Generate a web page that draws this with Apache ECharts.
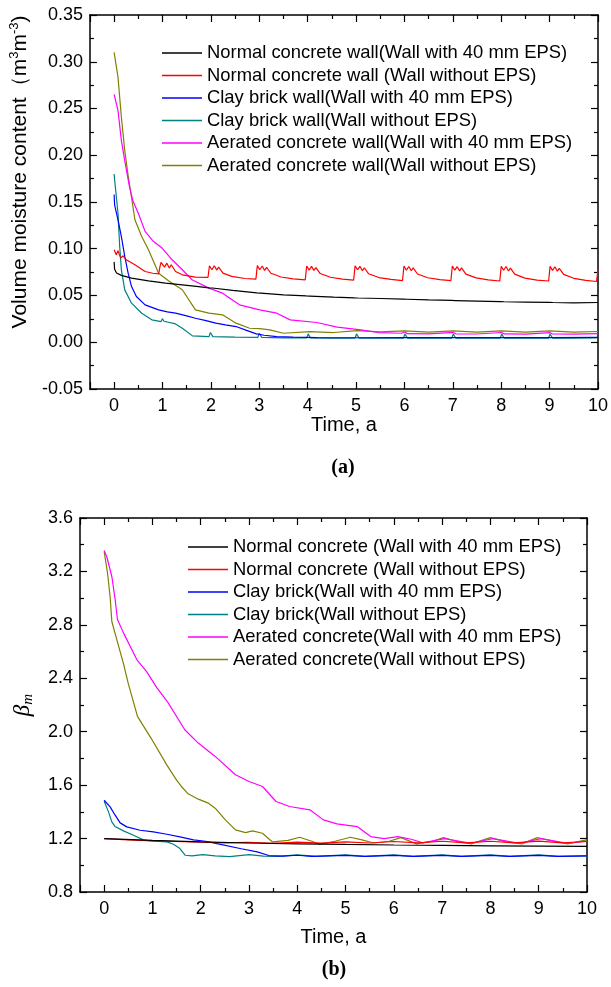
<!DOCTYPE html>
<html>
<head>
<meta charset="utf-8">
<script src="https://cdn.jsdelivr.net/npm/echarts@6/dist/echarts.min.js"></script>
<style>html,body{margin:0;padding:0;background:#fff;}#c{width:611px;height:987px;}</style>
</head>
<body>
<div id="c"></div>
<script>
// ---------- (a) Volume moisture content ----------
const topNames = [
  'Normal concrete wall(Wall with 40 mm EPS)',
  'Normal concrete wall (Wall without EPS)',
  'Clay brick wall(Wall with 40 mm EPS)',
  'Clay brick wall(Wall without EPS)',
  'Aerated concrete wall(Wall with 40 mm EPS)',
  'Aerated concrete wall(Wall without EPS)'
];
const topNormalEPS = [[0,0.086],[0.01,0.078],[0.05,0.074],[0.15,0.0715],[0.36,0.0686],[0.71,0.0657],[1.06,0.0632],[1.41,0.0614],[1.7,0.0598],[1.96,0.0582],[1.99,0.0594],[2.03,0.058],[2.45,0.0554],[2.95,0.0528],[2.99,0.054],[3.03,0.0525],[3.5,0.0507],[3.97,0.0495],[4.0,0.0508],[4.04,0.0494],[4.54,0.0482],[4.97,0.0474],[5.0,0.0488],[5.04,0.0473],[5.5,0.0468],[5.98,0.0461],[6.01,0.0475],[6.05,0.046],[6.5,0.0453],[6.98,0.0447],[7.01,0.0461],[7.05,0.0446],[7.5,0.044],[7.99,0.0434],[8.02,0.0448],[8.06,0.0433],[8.5,0.043],[9.0,0.0426],[9.03,0.044],[9.07,0.0425],[9.5,0.0422],[10,0.0425]];
const topNormal = [[0,0.099],[0.01,0.097],[0.045,0.0936],[0.08,0.098],[0.136,0.090],[0.185,0.0925],[0.25,0.0882],[0.43,0.0829],[0.64,0.0757],[0.8,0.0738],[0.92,0.0732],
  [0.95,0.0815],[0.97,0.0854],[1.04,0.0804],[1.09,0.0846],[1.14,0.0793],[1.18,0.0829],[1.27,0.0757],[1.41,0.0721],[1.68,0.0696],[1.94,0.0693],
  [1.97,0.0818],[2.02,0.0775],[2.07,0.0818],[2.12,0.0772],[2.16,0.0804],[2.25,0.0739],[2.43,0.0704],[2.7,0.0682],[2.93,0.0675],
  [2.96,0.082],[3.01,0.0775],[3.06,0.0815],[3.11,0.0768],[3.15,0.080],[3.24,0.0738],[3.45,0.0698],[3.7,0.0678],[3.95,0.0668],
  [3.98,0.0815],[4.03,0.0772],[4.08,0.0812],[4.13,0.0768],[4.17,0.0798],[4.26,0.0735],[4.47,0.0695],[4.72,0.0675],[4.95,0.0665],
  [4.98,0.0818],[5.03,0.0775],[5.08,0.0812],[5.13,0.0765],[5.17,0.0797],[5.26,0.0732],[5.47,0.0692],[5.72,0.0672],[5.96,0.066],
  [5.99,0.0815],[6.04,0.077],[6.09,0.081],[6.14,0.0765],[6.18,0.0795],[6.27,0.073],[6.48,0.069],[6.73,0.067],[6.96,0.066],
  [6.99,0.0815],[7.04,0.0772],[7.09,0.0808],[7.14,0.0763],[7.18,0.0795],[7.27,0.0728],[7.48,0.0688],[7.73,0.0668],[7.97,0.0655],
  [8.0,0.0812],[8.05,0.077],[8.1,0.081],[8.15,0.0762],[8.19,0.0793],[8.28,0.0728],[8.49,0.0686],[8.74,0.0665],[8.98,0.0655],
  [9.01,0.0812],[9.06,0.0768],[9.11,0.0808],[9.16,0.076],[9.2,0.079],[9.29,0.0726],[9.5,0.0684],[9.75,0.0662],[9.97,0.065],[10,0.078]];
const topClayEPS = [[0,0.158],[0.01,0.147],[0.08,0.131],[0.15,0.113],[0.22,0.0918],[0.29,0.0739],[0.36,0.0596],[0.46,0.0489],[0.64,0.040],[0.92,0.0346],[1.1,0.0325],[1.27,0.0311],[1.5,0.0282],[1.68,0.0257],[1.9,0.0232],[2.1,0.0204],[2.3,0.0185],[2.52,0.0168],[2.75,0.0125],[2.94,0.0089],[3.1,0.0075],[3.36,0.0061],[3.7,0.0055],[4.19,0.005],[5,0.0048],[6,0.0049],[7,0.005],[8,0.0049],[9,0.005],[10,0.0052]];
const topClay = [[0,0.18],[0.01,0.174],[0.08,0.138],[0.115,0.1025],[0.15,0.0775],[0.22,0.056],[0.36,0.0418],[0.57,0.031],[0.78,0.024],[0.97,0.0221],[1.0,0.0252],[1.03,0.0225],[1.06,0.021],[1.27,0.0196],[1.41,0.015],[1.62,0.0068],[1.96,0.006],[1.99,0.0104],[2.04,0.006],[2.5,0.0055],[2.97,0.0052],[3.0,0.0096],[3.05,0.0052],[3.5,0.0046],[3.98,0.0046],[4.01,0.009],[4.06,0.0046],[4.5,0.0045],[4.98,0.0045],[5.01,0.009],[5.06,0.0045],[5.5,0.0044],[5.98,0.0045],[6.01,0.009],[6.06,0.0045],[6.5,0.0044],[6.98,0.0045],[7.01,0.0088],[7.06,0.0045],[7.5,0.0044],[7.98,0.0045],[8.01,0.0088],[8.06,0.0045],[8.5,0.0044],[8.98,0.0045],[9.01,0.0088],[9.06,0.0045],[9.5,0.0044],[10,0.0046]];
const topAeratedEPS = [[0,0.265],[0.08,0.248],[0.15,0.2157],[0.22,0.194],[0.32,0.1656],[0.39,0.151],[0.5,0.138],[0.64,0.1186],[0.81,0.108],[0.99,0.1007],[1.2,0.0882],[1.41,0.0775],[1.61,0.0668],[1.96,0.0579],[2.24,0.0525],[2.59,0.040],[3.01,0.0346],[3.36,0.0311],[3.64,0.0239],[4.19,0.0211],[4.61,0.0161],[5.1,0.0132],[5.45,0.0104],[5.94,0.0096],[6.01,0.011],[6.06,0.0092],[6.5,0.009],[7.01,0.0105],[7.06,0.009],[7.5,0.0088],[8.01,0.0104],[8.06,0.0089],[8.5,0.0087],[9.01,0.0102],[9.06,0.0088],[9.5,0.0087],[10,0.0092]];
const topAerated = [[0,0.31],[0.08,0.2835],[0.15,0.2406],[0.22,0.205],[0.29,0.178],[0.36,0.155],[0.43,0.131],[0.57,0.113],[0.71,0.099],[0.92,0.0739],[1.13,0.0655],[1.41,0.0561],[1.68,0.0346],[1.96,0.0311],[2.24,0.0293],[2.52,0.0204],[2.8,0.015],[3.01,0.0145],[3.22,0.0132],[3.5,0.0096],[4.05,0.0114],[4.54,0.0104],[5.03,0.0125],[5.5,0.011],[6.0,0.0122],[6.5,0.0108],[7.0,0.0122],[7.5,0.0108],[8.0,0.0122],[8.5,0.0108],[9.0,0.0122],[9.5,0.0108],[10,0.0115]];

// ---------- (b) beta_m ----------
const botNames = [
  'Normal concrete (Wall with 40 mm EPS)',
  'Normal concrete (Wall without EPS)',
  'Clay brick(Wall with 40 mm EPS)',
  'Clay brick(Wall without EPS)',
  'Aerated concrete(Wall with 40 mm EPS)',
  'Aerated concrete(Wall without EPS)'
];
const botNormalEPS = [[0,1.2],[1,1.186],[2,1.175],[3,1.167],[4,1.161],[5,1.156],[6,1.152],[7,1.149],[8,1.146],[9,1.144],[10,1.142]];
const botNormal = [[0,1.2],[0.5,1.19],[1,1.183],[1.5,1.178],[2,1.173],[2.5,1.168],[3,1.172],[3.5,1.165],[4,1.174],[4.5,1.166],[5,1.176],[5.5,1.167],[6,1.178],[6.5,1.168],[7,1.18],[7.5,1.168],[8,1.18],[8.5,1.168],[9,1.181],[9.5,1.168],[10,1.178]];
const botClayEPS = [[0,1.487],[0.124,1.4375],[0.228,1.375],[0.331,1.3175],[0.469,1.2875],[0.745,1.2625],[1.02,1.25],[1.3,1.2325],[1.57,1.2125],[1.85,1.19],[2.1,1.18],[2.36,1.16],[2.84,1.124],[3.17,1.1],[3.41,1.073],[3.7,1.068],[4.0,1.075],[4.3,1.066],[5.0,1.074],[5.4,1.066],[6.0,1.074],[6.4,1.066],[7.0,1.074],[7.4,1.066],[8.0,1.074],[8.4,1.066],[9.0,1.074],[9.4,1.066],[10,1.07]];
const botClay = [[0,1.48],[0.09,1.4],[0.159,1.325],[0.228,1.29],[0.4,1.2575],[0.607,1.225],[0.814,1.19],[1.02,1.18],[1.3,1.175],[1.435,1.1575],[1.57,1.125],[1.68,1.075],[1.82,1.07],[2.04,1.08],[2.3,1.07],[2.6,1.065],[3.0,1.08],[3.3,1.068],[3.6,1.066],[4.0,1.078],[4.4,1.066],[5.0,1.078],[5.4,1.066],[6.0,1.078],[6.4,1.066],[7.0,1.078],[7.4,1.066],[8.0,1.078],[8.4,1.066],[9.0,1.078],[9.4,1.066],[10,1.07]];
const botAeratedEPS = [[0,3.3575],[0.055,3.31],[0.16,3.16],[0.228,2.99],[0.276,2.84],[0.4,2.74],[0.676,2.54],[0.88,2.45],[1.09,2.33],[1.32,2.22],[1.67,2.015],[1.95,1.915],[2.3,1.815],[2.72,1.6775],[3.0,1.6275],[3.28,1.59],[3.56,1.4775],[3.84,1.44],[4.26,1.415],[4.54,1.34],[4.82,1.31],[5.24,1.29],[5.52,1.215],[5.8,1.2],[6.08,1.215],[6.36,1.195],[6.6,1.168],[7.05,1.2],[7.6,1.165],[8.05,1.2],[8.6,1.165],[9.05,1.2],[9.6,1.165],[10,1.18]];
const botAerated = [[0,3.35],[0.069,3.19],[0.124,3.01],[0.159,2.825],[0.262,2.69],[0.4,2.51],[0.5,2.36],[0.69,2.115],[0.97,1.9525],[1.3,1.75],[1.5,1.6375],[1.6,1.59],[1.74,1.535],[1.95,1.495],[2.16,1.465],[2.3,1.4275],[2.51,1.34],[2.72,1.265],[2.93,1.245],[3.07,1.2575],[3.28,1.24],[3.42,1.195],[3.49,1.175],[3.81,1.187],[4.05,1.21],[4.3,1.18],[4.46,1.157],[4.78,1.18],[5.1,1.21],[5.34,1.19],[5.58,1.167],[5.9,1.18],[6.15,1.207],[6.47,1.16],[6.8,1.18],[7.03,1.207],[7.28,1.18],[7.6,1.16],[8.0,1.207],[8.3,1.177],[8.65,1.16],[8.97,1.207],[9.3,1.18],[9.6,1.16],[9.94,1.187],[10,1.19]];

const colors = ['#000000','#ff0000','#0000ff','#008080','#ff00ff','#808000'];
const FONT = 'Liberation Sans, Arial, Helvetica, sans-serif';

const chart = echarts.init(document.getElementById('c'), null, {renderer:'canvas'});

function xAx(grid, pos, withLabel, nameGap) {
  return {
    type:'value', gridIndex:grid, position:pos, min:-0.5, max:10, minInterval:1, maxInterval:1,
    axisLine:{show:true, onZero:false, lineStyle:{color:'#000', width:1.5}},
    axisTick:{show:true, inside:true, length:7, lineStyle:{color:'#000', width:1.2}},
    minorTick:{show:true, splitNumber:2, length:4, lineStyle:{color:'#000', width:1.2}},
    splitLine:{show:false},
    axisLabel:{show:withLabel, color:'#000', fontSize:18, fontFamily:FONT, margin:8,
      formatter:function(v){return v < 0 ? '' : String(v);}},
    name: withLabel ? 'Time, a' : '', nameLocation:'middle', nameGap:nameGap,
    nameTextStyle:{color:'#000', fontSize:20, fontFamily:FONT}
  };
}
function yAx(grid, pos, withLabel, mn, mx, iv, dec, name, nameGap, rich) {
  return {
    type:'value', gridIndex:grid, position:pos, min:mn, max:mx, interval:iv,
    axisLine:{show:true, onZero:false, lineStyle:{color:'#000', width:1.5}},
    axisTick:{show:true, inside:true, length:7, lineStyle:{color:'#000', width:1.2}},
    minorTick:{show:true, splitNumber:2, length:4, lineStyle:{color:'#000', width:1.2}},
    splitLine:{show:false},
    axisLabel:{show:withLabel, color:'#000', fontSize:18, fontFamily:FONT, margin:7,
      formatter:function(v){return v.toFixed(dec);}},
    name: withLabel ? name : '', nameLocation:'middle', nameGap:nameGap,
    nameTextStyle:{color:'#000', fontSize:21, fontFamily:FONT, rich:rich}
  };
}

const topRich = {
  p:{fontSize:21, fontFamily:FONT, color:'#000', lineHeight:25, padding:[0,0,0,60]},
  n:{fontSize:21, fontFamily:FONT, color:'#000', lineHeight:25},
  s:{fontSize:13, fontFamily:FONT, color:'#000', lineHeight:25, verticalAlign:'top'}
};
const botRich = {
  b:{fontSize:23, fontStyle:'italic', fontFamily:'Liberation Serif, Times New Roman, serif', color:'#000', lineHeight:26},
  m:{fontSize:15, fontStyle:'italic', fontFamily:'Liberation Serif, Times New Roman, serif', color:'#000', lineHeight:26, verticalAlign:'bottom'}
};

const topData = [topNormalEPS, topNormal, topClayEPS, topClay, topAeratedEPS, topAerated];
const botData = [botNormalEPS, botNormal, botClayEPS, botClay, botAeratedEPS, botAerated];

const series = [];
topData.forEach(function(d,i){
  series.push({type:'line', name:topNames[i], xAxisIndex:0, yAxisIndex:0, data:d, showSymbol:false, symbol:'none',
    lineStyle:{color:colors[i], width:1.2}, itemStyle:{color:colors[i]}, z:10-i});
});
botData.forEach(function(d,i){
  series.push({type:'line', name:botNames[i], xAxisIndex:2, yAxisIndex:2, data:d, showSymbol:false, symbol:'none',
    lineStyle:{color:colors[i], width:1.2}, itemStyle:{color:colors[i]}, z:10-i});
});

const legendBase = {orient:'vertical', itemWidth:40, itemHeight:1.5, itemGap:2.5, icon:'rect', padding:0, selectedMode:false,
  textStyle:{color:'#000', fontSize:18.4, fontFamily:FONT, lineHeight:20}};

const option = {
  animation:false,
  backgroundColor:'#fff',
  grid:[
    {left:87, top:15, width:512, height:374},
    {left:80, top:518, width:507, height:374}
  ],
  xAxis:[ xAx(0,'bottom',true,26), xAx(0,'top',false,0), xAx(1,'bottom',true,35), xAx(1,'top',false,0) ],
  yAxis:[
    yAx(0,'left',true,-0.05,0.35,0.05,2,'{p|Volume moisture content（m}{s|3}{n|m}{s|-3}{n|)}',56,topRich),
    yAx(0,'right',false,-0.05,0.35,0.05,2,'',0,topRich),
    yAx(1,'left',true,0.8,3.6,0.4,1,'{b|β}{m|m}',44,botRich),
    yAx(1,'right',false,0.8,3.6,0.4,1,'',0,botRich)
  ],
  legend:[
    Object.assign({}, legendBase, {data:topNames, left:162, top:43}),
    Object.assign({}, legendBase, {data:botNames, left:188, top:537})
  ],
  graphic:[
    {type:'text', x:343, y:468, style:{text:'(a)', fill:'#000', font:'bold 20px "Liberation Serif", "Times New Roman", serif', textAlign:'center', textVerticalAlign:'middle', align:'center', verticalAlign:'middle'}},
    {type:'text', x:334, y:970, style:{text:'(b)', fill:'#000', font:'bold 20px "Liberation Serif", "Times New Roman", serif', textAlign:'center', textVerticalAlign:'middle', align:'center', verticalAlign:'middle'}}
  ],
  series:series
};
chart.setOption(option);
</script>
</body>
</html>
